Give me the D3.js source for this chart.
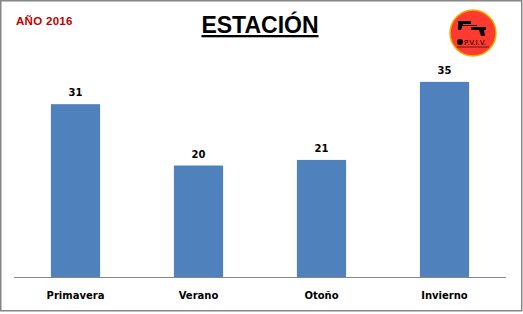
<!DOCTYPE html>
<meta charset="utf-8">
<style>
  body { margin: 0; background: #fff; }
  .lbl { font-family: 'DejaVu Sans', sans-serif; font-weight: bold; font-size: 10px; fill: #000; }
</style>
<body>
<script src="https://cdn.jsdelivr.net/npm/d3@7"></script>
<script>
  var seasons = ["Primavera", "Verano", "Otoño", "Invierno"];
  var counts = [31, 20, 21, 35];

  var width = 523, height = 314;

  var svg = d3.select("body").append("svg")
    .attr("width", width)
    .attr("height", height);

  // chart border
  svg.append("rect")
    .attr("x", 0.75).attr("y", 0.75)
    .attr("width", 521).attr("height", 310)
    .attr("fill", "#fff")
    .attr("stroke", "#868686")
    .attr("stroke-width", 1.5);

  var x = d3.scaleBand()
    .domain(seasons)
    .range([14, 506])
    .paddingInner(0.6)
    .paddingOuter(0.3);

  var y = d3.scaleLinear()
    .domain([0, 40])
    .range([277, 54]);

  /* bars */
  svg.selectAll("rect.bar")
    .data(counts)
    .enter()
    .append("rect")
    .attr("class", "bar")
    .attr("x", function(d, i) { return x(seasons[i]); })
    .attr("y", function(d) { return y(d); })
    .attr("width", x.bandwidth())
    .attr("height", function(d) { return y(0) - y(d); })
    .attr("fill", "#4f81bd");

  /* baseline */
  svg.append("line")
    .attr("x1", 14).attr("x2", 506)
    .attr("y1", y(0) + 0.5).attr("y2", y(0) + 0.5)
    .attr("stroke", "#868686")
    .attr("stroke-width", 1);

  /* value labels */
  svg.selectAll("text.val")
    .data(counts)
    .enter()
    .append("text")
    .attr("class", "lbl val")
    .attr("text-anchor", "middle")
    .attr("x", function(d, i) { return x(seasons[i]) + x.bandwidth() / 2; })
    .attr("y", function(d) { return y(d) - 8; })
    .text(function(d) { return d; });

  /* category labels */
  svg.selectAll("text.cat")
    .data(seasons)
    .enter()
    .append("text")
    .attr("class", "lbl cat")
    .attr("text-anchor", "middle")
    .attr("x", function(d) { return x(d) + x.bandwidth() / 2; })
    .attr("y", 299)
    .text(function(d) { return d; });

  /* title */
  svg.append("text")
    .attr("x", 260).attr("y", 33)
    .attr("text-anchor", "middle")
    .style("font-family", "'Liberation Sans', Arial, sans-serif")
    .style("font-weight", "bold")
    .style("font-size", "23px")
    .style("text-decoration", "underline")
    .text("ESTACIÓN");

  svg.append("text")
    .attr("x", 16).attr("y", 25)
    .style("font-family", "'Liberation Sans', Arial, sans-serif")
    .style("font-size", "11.5px")
    .style("font-weight", "bold")
    .style("letter-spacing", "0.3px")
    .attr("fill", "#c00000")
    .text("AÑO 2016");

  /* logo */
  var logo = svg.append("g").attr("transform", "translate(473,33)");
  logo.append("circle")
    .attr("r", 23)
    .attr("fill", "#ff3b2f")
    .attr("stroke", "#e8b400")
    .attr("stroke-width", 1.5);
  // rough gun shapes
  logo.append("path")
    .attr("d", "M-15,-12 L-2,-12 L-2,-9 L-10,-9 L-12,-3 L-15,-3 Z")
    .attr("fill", "#000");
  logo.append("path")
    .attr("d", "M-12,-8 L4,-8 L4,-7 L-12,-7 Z")
    .attr("fill", "#000");
  logo.append("path")
    .attr("d", "M-2,-6 L13,-6 L13,-3 L11,-3 L12,3 L8,3 L6,-3 L-2,-3 Z")
    .attr("fill", "#000");
  logo.append("circle")
    .attr("cx", -13).attr("cy", 9).attr("r", 3)
    .attr("fill", "#000");
  logo.append("text")
    .attr("x", -9).attr("y", 12)
    .style("font-family", "'DejaVu Sans', sans-serif")
    .style("font-size", "7px")
    .attr("fill", "#000")
    .text("P.V.I.V.");
  logo.append("line")
    .attr("x1", -16).attr("x2", 16)
    .attr("y1", 14).attr("y2", 14)
    .attr("stroke", "#000").attr("stroke-width", 0.6);
</script>
</body>
